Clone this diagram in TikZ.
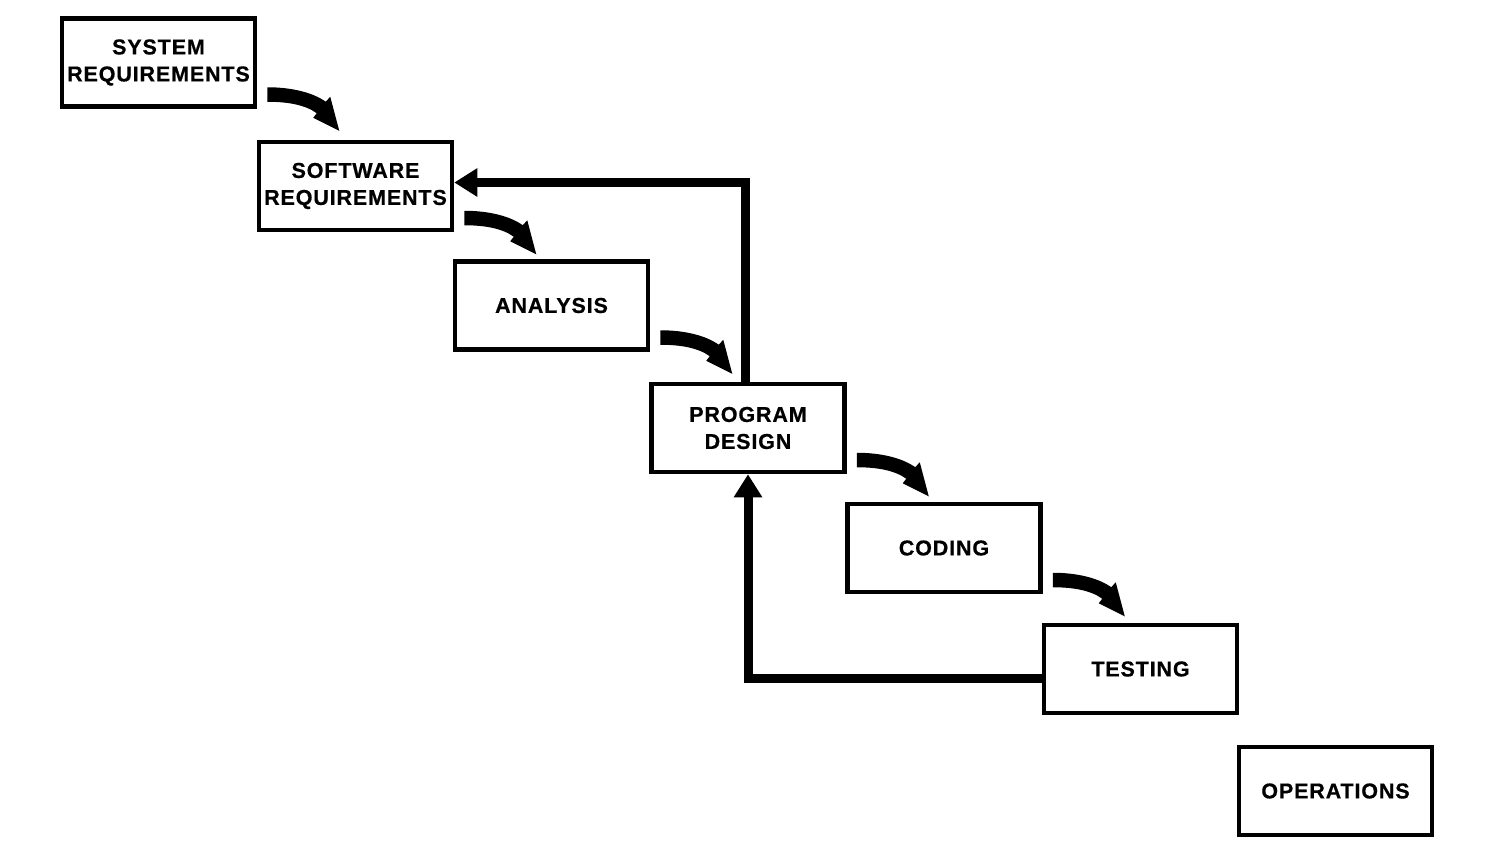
\documentclass[tikz,border=0pt]{standalone}
\usepackage{fontspec}
\setmainfont{Liberation Sans}
\usetikzlibrary{arrows.meta,calc}

\begin{document}
\begin{tikzpicture}[x=1pt,y=-1pt,
  phase/.style={draw, line width=4.5pt, minimum width=193pt, minimum height=88pt,
    align=center, inner sep=0pt,
    font=\fontsize{21.5}{27}\selectfont\bfseries\addfontfeatures{LetterSpace=4,FakeBold=0.6}},
  feedback/.style={line width=9pt, -{Triangle[length=23pt,width=27pt]}},
  % tapered, bent arrow that steps down to the next phase
  steparrow/.pic={
    \fill (0,-7.5) .. controls (25,-7.5) and (46,-2) .. (58.5,7)
      -- (63,2) -- (72,36) -- (46,23) -- (49.5,18.5)
      .. controls (38,10) and (20,7) .. (0,7) -- cycle;
  }]

\useasboundingbox (0,0) rectangle (1504,857);

% Phases of the waterfall
\node[phase] (sys)  at (158.5,62.5) {SYSTEM\\REQUIREMENTS};
\node[phase] (swr)  at (355.5,186)  {SOFTWARE\\REQUIREMENTS};
\node[phase] (ana)  at (551.5,305.5) {ANALYSIS};
\node[phase] (pd)   at (748,428)    {PROGRAM\\DESIGN};
\node[phase] (cod)  at (944,548)    {CODING};
\node[phase] (tst)  at (1140.5,669) {TESTING};
\node[phase] (ops)  at (1335.5,791) {OPERATIONS};

% Step-down arrows between consecutive phases
\foreach \a in {sys, swr, ana, pd, cod}{
  \pic at ($(\a.south east)+(10,-14)$) {steparrow};
}

% Feedback loops
\draw[feedback] ([xshift=-3pt]pd.north) |- ([yshift=3.5pt]swr.east);
\draw[feedback] ([yshift=-9pt]tst.west) -| (pd.south);

\end{tikzpicture}
\end{document}
